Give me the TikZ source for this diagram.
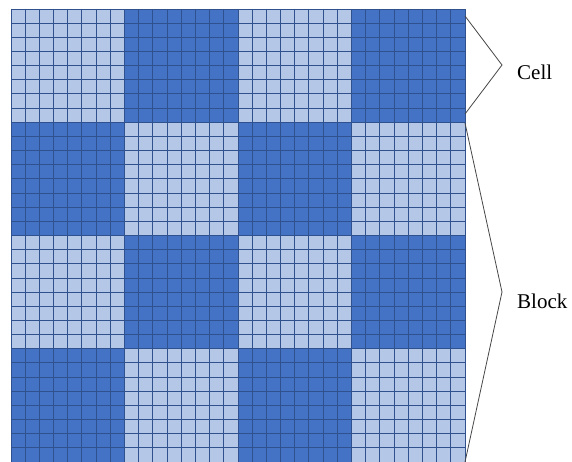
\documentclass[tikz,border=0pt]{standalone}
\usepackage{fontspec}
\setmainfont{Liberation Serif}
\definecolor{CellLight}{RGB}{180,199,231}
\definecolor{CellDark}{RGB}{68,114,196}
\definecolor{GridLine}{RGB}{47,82,143}
\definecolor{BraceGray}{RGB}{70,70,70}
\usetikzlibrary{positioning,calc}

\begin{document}
\begin{tikzpicture}[x=1pt,y=-1pt]
  \useasboundingbox (0,0) rectangle (572,462);
  % checkerboard of 4x4 blocks, 8x8 cells each
  \begin{scope}[shift={(11,9)},x=14.1875pt,y=-14.156pt]
    \foreach \i in {0,...,3}
      \foreach \j in {0,...,3} {
        \pgfmathtruncatemacro{\odd}{mod(\i+\j,2)}
        \ifnum\odd=0
          \fill[CellLight] (8*\i,8*\j) rectangle +(8,8);
        \else
          \fill[CellDark] (8*\i,8*\j) rectangle +(8,8);
        \fi
      }
    \foreach \k in {0,...,32} {
      \draw[GridLine,line width=0.9pt] (\k,0) -- (\k,32);
      \draw[GridLine,line width=0.9pt] (0,\k) -- (32,\k);
    }
  \end{scope}
  % brackets
  \coordinate (cellTop) at (465,16);
  \coordinate (cellTip) at (502,65);
  \coordinate (cellBot) at (465,114);
  \coordinate (blockTop) at (465,123);
  \coordinate (blockTip) at (502,292);
  \coordinate (blockBot) at (465,462);
  \draw[BraceGray,line width=0.8pt] (cellTop) -- (cellTip) -- (cellBot);
  \draw[BraceGray,line width=0.8pt] (blockTop) -- (blockTip) -- (blockBot);
  \node[anchor=base west,inner sep=0pt,font=\fontsize{21}{24}\selectfont] (cell) at (517,80) {Cell};
  \node[anchor=base west,inner sep=0pt,font=\fontsize{21}{24}\selectfont] (block) at (517,308) {Block};
\end{tikzpicture}
\end{document}
